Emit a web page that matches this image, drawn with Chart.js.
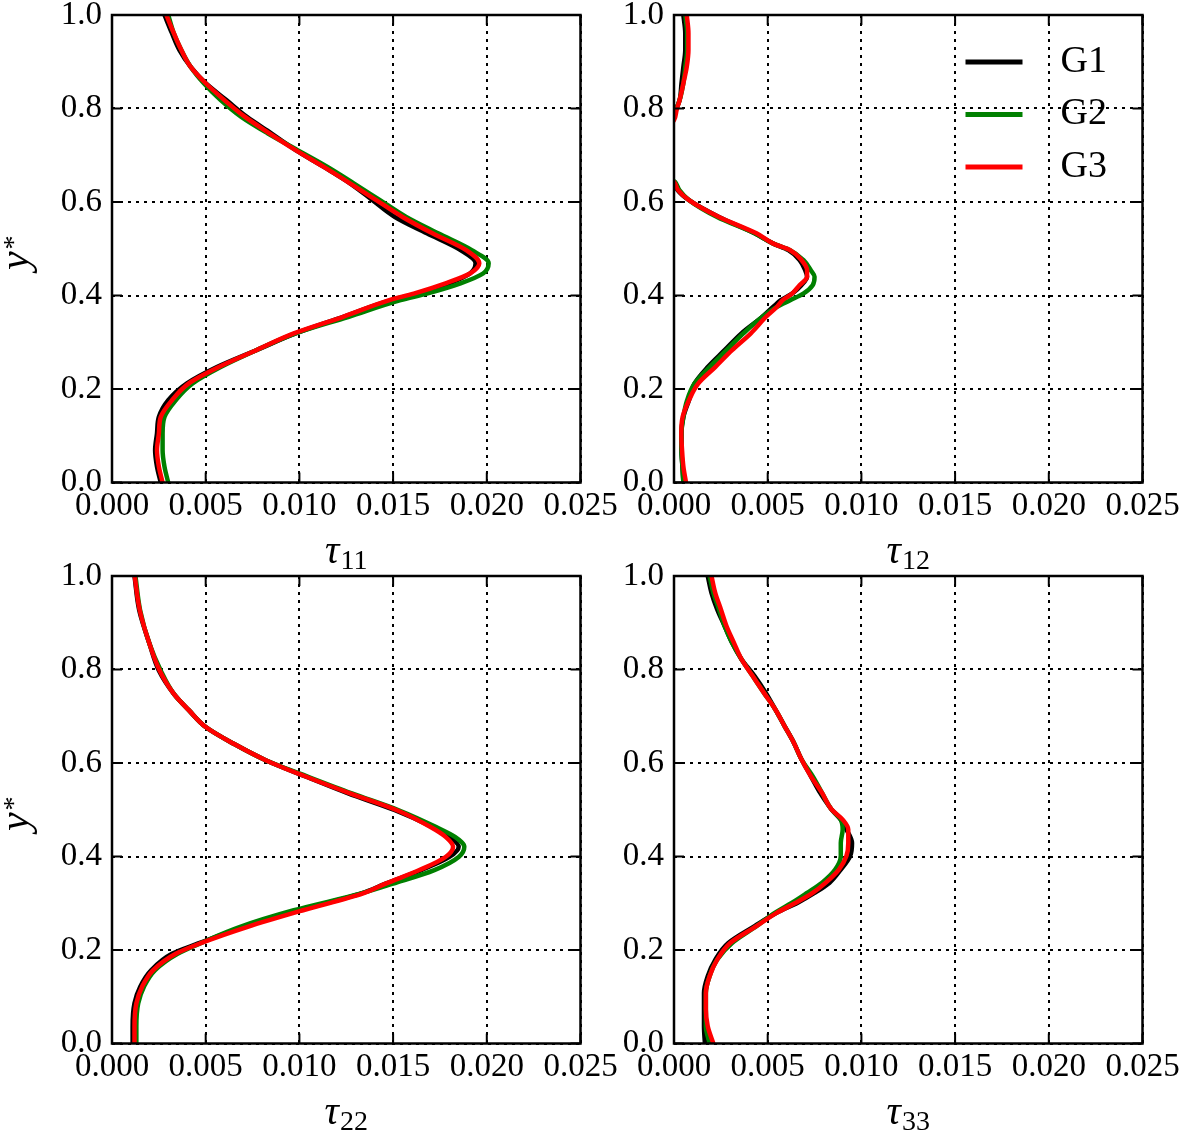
<!DOCTYPE html>
<html>
<head>
<meta charset="utf-8">
<script src="https://cdn.jsdelivr.net/npm/chart.js@4/dist/chart.umd.min.js"></script>
<style>
  html, body { margin:0; padding:0; background:#fff; overflow:hidden; width:1181px; height:1130px; }
  canvas { position:absolute; }
</style>
</head>
<body>
<canvas id="c0" width="640" height="575" style="left:0px;top:0px"></canvas>
<canvas id="c1" width="640" height="575" style="left:562px;top:0px"></canvas>
<canvas id="c2" width="640" height="575" style="left:0px;top:561px"></canvas>
<canvas id="c3" width="640" height="575" style="left:562px;top:561px"></canvas>
<script>
// ---------- data ----------
const seriesNames = ['G1', 'G2', 'G3'];
const seriesColors = ['#000000', '#008000', '#ff0000'];
const xTickValues = [0, 0.005, 0.010, 0.015, 0.020, 0.025];
const yTickValues = [0, 0.2, 0.4, 0.6, 0.8, 1.0];
const xTitleMain = ['τ', 'τ', 'τ', 'τ'];
const xTitleSub = ['11', '12', '22', '33'];
const yTitleMain = 'y';
const yTitleSup = '*';

// tau11
const yT11 = [0, 0.034, 0.069, 0.105, 0.140, 0.176, 0.212, 0.247, 0.283, 0.319, 0.354, 0.390, 0.404, 0.426, 0.447, 0.469, 0.497, 0.533, 0.568, 0.604, 0.640, 0.675, 0.711, 0.747, 0.782, 0.818, 0.854, 0.889, 0.925, 0.961, 1.0];
const t11G1 = [0.0026, 0.0024, 0.0023, 0.0024, 0.0025, 0.0030, 0.0040, 0.0056, 0.0077, 0.0098, 0.0123, 0.0149, 0.0163, 0.0180, 0.0191, 0.0194, 0.0186, 0.0168, 0.0151, 0.0139, 0.0127, 0.0113, 0.0098, 0.0085, 0.0072, 0.0061, 0.0050, 0.0042, 0.0036, 0.0032, 0.0028];
const t11G2 = [0.0030, 0.0028, 0.0027, 0.0027, 0.0028, 0.0034, 0.0043, 0.0058, 0.0077, 0.0098, 0.0126, 0.0154, 0.0168, 0.0186, 0.0198, 0.0201, 0.0192, 0.0174, 0.0157, 0.0143, 0.0129, 0.0115, 0.0099, 0.0083, 0.0069, 0.0058, 0.0049, 0.0042, 0.0037, 0.0033, 0.0030];
const t11G3 = [0.0027, 0.0025, 0.0024, 0.0025, 0.0026, 0.0032, 0.0041, 0.0057, 0.0077, 0.0097, 0.0123, 0.0148, 0.0161, 0.0178, 0.0191, 0.0196, 0.0189, 0.0171, 0.0155, 0.0141, 0.0127, 0.0113, 0.0098, 0.0084, 0.0071, 0.0060, 0.0050, 0.0042, 0.0037, 0.0033, 0.0029];

// tau12
const yT12 = [0, 0.034, 0.069, 0.105, 0.140, 0.176, 0.212, 0.247, 0.283, 0.319, 0.354, 0.376, 0.390, 0.404, 0.422, 0.440, 0.454, 0.476, 0.497, 0.511, 0.533, 0.568, 0.604, 0.625, 0.643, 0.660, 0.700, 0.740, 0.775, 0.797, 0.818, 0.854, 0.889, 0.925, 0.961, 1.0];
const t12G1 = [0.0005, 0.00045, 0.0004, 0.0004, 0.0005, 0.0008, 0.0011, 0.0018, 0.0027, 0.0036, 0.0047, 0.0053, 0.0057, 0.0063, 0.0068, 0.0071, 0.0070, 0.0067, 0.0061, 0.0053, 0.0043, 0.0024, 0.0008, 0.0002, 0.0, -0.0005, -0.0012, -0.0008, -0.0001, 0.0001, 0.0003, 0.0004, 0.0005, 0.0006, 0.0006, 0.0005];
const t12G2 = [0.0005, 0.00045, 0.0004, 0.0004, 0.0005, 0.0007, 0.0011, 0.0019, 0.0028, 0.0037, 0.0047, 0.0055, 0.0062, 0.0069, 0.0074, 0.0075, 0.0073, 0.0069, 0.0062, 0.0053, 0.0043, 0.0023, 0.0008, 0.0003, 0.00005, -0.0005, -0.0012, -0.0008, -0.0001, 0.0001, 0.0003, 0.0005, 0.0006, 0.0007, 0.0007, 0.0006];
const t12G3 = [0.00064, 0.0005, 0.00043, 0.00039, 0.00046, 0.0008, 0.0013, 0.0022, 0.0031, 0.0041, 0.0049, 0.0055, 0.0058, 0.0063, 0.0067, 0.0071, 0.0071, 0.0068, 0.0062, 0.0053, 0.0044, 0.0024, 0.0008, 0.00023, 0.0, -0.0005, -0.0012, -0.0008, 0.0, 0.00014, 0.0003, 0.0005, 0.00068, 0.00077, 0.00077, 0.00068];

// tau22
const yT22 = [0, 0.036, 0.086, 0.121, 0.157, 0.192, 0.214, 0.249, 0.285, 0.321, 0.342, 0.371, 0.399, 0.421, 0.442, 0.463, 0.499, 0.535, 0.570, 0.606, 0.641, 0.677, 0.713, 0.748, 0.798, 0.855, 0.927, 1.0];
const t22G1 = [0.0011, 0.0011, 0.0012, 0.0015, 0.0021, 0.0032, 0.0046, 0.0070, 0.0100, 0.0133, 0.0146, 0.0165, 0.0180, 0.0185, 0.0180, 0.0171, 0.0151, 0.0126, 0.0104, 0.0082, 0.0065, 0.0050, 0.0041, 0.0033, 0.0025, 0.0020, 0.00145, 0.0012];
const t22G2 = [0.0013, 0.0013, 0.0014, 0.0017, 0.0023, 0.0035, 0.0047, 0.0068, 0.0097, 0.0133, 0.0150, 0.0172, 0.0185, 0.0188, 0.0183, 0.0173, 0.0153, 0.0128, 0.0105, 0.0082, 0.0065, 0.0050, 0.0041, 0.0033, 0.0026, 0.0020, 0.0015, 0.00125];
const t22G3 = [0.0012, 0.0012, 0.0013, 0.0016, 0.0022, 0.0034, 0.0047, 0.0072, 0.0102, 0.0134, 0.0146, 0.0164, 0.0178, 0.0182, 0.0178, 0.0170, 0.0152, 0.0127, 0.0104, 0.0082, 0.0065, 0.0050, 0.0041, 0.0033, 0.00254, 0.0020, 0.00148, 0.00121];

// tau33
const yT33 = [0, 0.037, 0.073, 0.108, 0.144, 0.179, 0.215, 0.251, 0.280, 0.301, 0.322, 0.344, 0.372, 0.401, 0.429, 0.458, 0.479, 0.501, 0.536, 0.572, 0.608, 0.643, 0.679, 0.715, 0.750, 0.786, 0.822, 0.857, 0.893, 0.929, 0.964, 1.0];
const t33G1 = [0.00165, 0.0016, 0.0016, 0.0016, 0.0018, 0.0022, 0.0029, 0.0043, 0.0055, 0.0066, 0.0075, 0.0083, 0.0089, 0.0094, 0.0095, 0.0092, 0.0089, 0.0084, 0.0078, 0.0073, 0.0068, 0.0064, 0.0059, 0.0054, 0.0049, 0.0043, 0.0036, 0.0031, 0.0027, 0.0023, 0.0020, 0.0018];
const t33G2 = [0.0019, 0.0017, 0.0017, 0.0017, 0.0019, 0.0023, 0.0031, 0.0044, 0.0054, 0.0063, 0.0071, 0.0079, 0.0086, 0.0089, 0.0089, 0.0090, 0.0089, 0.0084, 0.0079, 0.0074, 0.0068, 0.0064, 0.0059, 0.0054, 0.0048, 0.0042, 0.0036, 0.0031, 0.0027, 0.0024, 0.0021, 0.0019];
const t33G3 = [0.0021, 0.0018, 0.0017, 0.0017, 0.0019, 0.0023, 0.0030, 0.0044, 0.0055, 0.0065, 0.0074, 0.0081, 0.0088, 0.0092, 0.0093, 0.0093, 0.0090, 0.0084, 0.0079, 0.0073, 0.0068, 0.0064, 0.0059, 0.0054, 0.0048, 0.0042, 0.0036, 0.0032, 0.0028, 0.0025, 0.0022, 0.0020];

const panelY = [yT11, yT12, yT22, yT33];
const panelSeries = [[t11G1, t11G2, t11G3], [t12G1, t12G2, t12G3], [t22G1, t22G2, t22G3], [t33G1, t33G2, t33G3]];

// ---------- drawing ----------
const FONT = "'Liberation Serif', 'DejaVu Serif', serif";

const framePlugin = {
  id: 'frame',
  afterDatasetsDraw(chart) {
    const {ctx, chartArea: {left, top, right, bottom}, scales: {x, y}} = chart;
    ctx.save();
    ctx.strokeStyle = '#000';
    ctx.lineWidth = 2;
    ctx.setLineDash([]);
    ctx.beginPath();
    xTickValues.forEach(v => {
      const px = x.getPixelForValue(v);
      ctx.moveTo(px, bottom); ctx.lineTo(px, bottom - 10);
      ctx.moveTo(px, top); ctx.lineTo(px, top + 10);
    });
    yTickValues.forEach(v => {
      const py = y.getPixelForValue(v);
      ctx.moveTo(left, py); ctx.lineTo(left + 10, py);
      ctx.moveTo(right, py); ctx.lineTo(right - 10, py);
    });
    ctx.stroke();
    ctx.lineWidth = 2.5;
    ctx.strokeRect(left, top, right - left, bottom - top);
    ctx.restore();
  }
};

const titlePlugin = {
  id: 'axisTitles',
  afterDraw(chart, args, opts) {
    const {ctx, chartArea: {left, top, right, bottom}} = chart;
    const idx = opts.idx;
    ctx.save();
    ctx.fillStyle = '#000';
    ctx.textBaseline = 'alphabetic';
    ctx.textAlign = 'left';
    // x title: tau with subscript
    ctx.font = 'italic 40px ' + FONT;
    const w1 = ctx.measureText(xTitleMain[idx]).width;
    ctx.font = '28px ' + FONT;
    const w2 = ctx.measureText(xTitleSub[idx]).width;
    const x0 = (left + right) / 2 - (w1 + w2 + 1) / 2;
    const by = bottom + 80;
    ctx.font = 'italic 40px ' + FONT;
    ctx.fillText(xTitleMain[idx], x0, by);
    ctx.font = '28px ' + FONT;
    ctx.fillText(xTitleSub[idx], x0 + w1 + 1, by + 6);
    // y title on left column
    if (idx % 2 === 0) {
      ctx.translate(28, (top + bottom) / 2 + 4);
      ctx.rotate(-Math.PI / 2);
      ctx.font = 'italic 42px ' + FONT;
      const wy = ctx.measureText(yTitleMain).width;
      ctx.font = '28px ' + FONT;
      const ws = ctx.measureText(yTitleSup).width;
      const sx = -(wy + ws + 2) / 2;
      ctx.font = 'italic 42px ' + FONT;
      ctx.fillText(yTitleMain, sx, 0);
      ctx.font = '28px ' + FONT;
      ctx.fillText(yTitleSup, sx + wy + 2, -6);
    }
    ctx.restore();
  }
};

const legendPlugin = {
  id: 'innerLegend',
  afterDatasetsDraw(chart) {
    const {ctx, chartArea: {right, top}} = chart;
    ctx.save();
    chart.data.datasets.forEach((ds, i) => {
      const yy = top + 47 + i * 52.5;
      ctx.strokeStyle = ds.borderColor;
      ctx.lineWidth = 5;
      ctx.beginPath();
      ctx.moveTo(right - 177, yy);
      ctx.lineTo(right - 120, yy);
      ctx.stroke();
      ctx.fillStyle = '#000';
      ctx.font = '38px ' + FONT;
      ctx.textBaseline = 'middle';
      ctx.textAlign = 'left';
      ctx.fillText(ds.label, right - 82, yy);
    });
    ctx.restore();
  }
};

function makeChart(idx) {
  const ys = panelY[idx];
  const datasets = panelSeries[idx].map((vals, k) => ({
    label: seriesNames[k],
    data: vals.map((v, i) => ({x: v, y: ys[i]})),
    borderColor: seriesColors[k],
    backgroundColor: seriesColors[k],
    borderWidth: 4.5,
    pointRadius: 0,
    cubicInterpolationMode: 'monotone',
    fill: false,
    order: 3 - k
  }));
  return new Chart(document.getElementById('c' + idx), {
    type: 'line',
    data: {datasets},
    options: {
      indexAxis: 'y',
      responsive: false,
      animation: false,
      events: [],
      layout: {padding: {top: 15, right: 59.5, left: 0, bottom: 0}},
      plugins: {legend: {display: false}, tooltip: {enabled: false}, axisTitles: {idx}},
      scales: {
        x: {
          type: 'linear', position: 'bottom', min: 0, max: 0.025,
          afterBuildTicks: s => { s.ticks = xTickValues.map(v => ({value: v})); },
          afterFit: s => { s.height = 92.5; s.paddingLeft = 0; s.paddingRight = 0; },
          ticks: {callback: v => Number(v).toFixed(3), font: {family: FONT, size: 33}, color: '#000', padding: 4, maxRotation: 0, minRotation: 0, autoSkip: false},
          grid: {color: '#000', lineWidth: 2, drawTicks: false},
          border: {display: false, dash: [3, 5]},
          title: {display: false}
        },
        y: {
          type: 'linear', position: 'left', min: 0, max: 1,
          afterBuildTicks: s => { s.ticks = yTickValues.map(v => ({value: v})); },
          afterFit: s => { s.width = 112; s.paddingTop = 0; s.paddingBottom = 0; },
          ticks: {callback: v => Number(v).toFixed(1), font: {family: FONT, size: 33}, color: '#000', padding: 10, autoSkip: false},
          grid: {color: '#000', lineWidth: 2, drawTicks: false},
          border: {display: false, dash: [3, 5]},
          title: {display: false}
        }
      }
    },
    plugins: idx === 1 ? [framePlugin, legendPlugin, titlePlugin] : [framePlugin, titlePlugin]
  });
}

[0, 1, 2, 3].forEach(makeChart);
</script>
</body>
</html>
